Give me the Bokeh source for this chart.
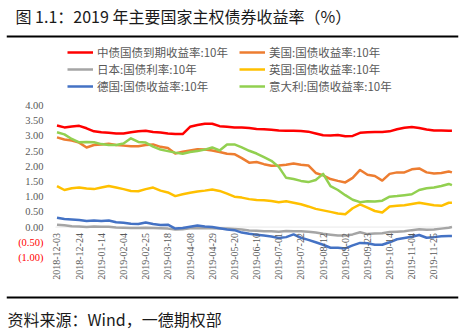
import pandas as pd
from datetime import datetime, timedelta
from bokeh.plotting import figure
from bokeh.layouts import column
from bokeh.models import (Range1d, Legend, LegendItem, Span, Label, LabelSet, BoxAnnotation,
                          ColumnDataSource)
from bokeh.embed import file_html
from bokeh.resources import INLINE

# ---------------- data ----------------
dates = list(pd.date_range("2018-12-03", periods=54, freq="7D")) + [pd.Timestamp("2019-12-12")]

china = [3.34, 3.28, 3.31, 3.33, 3.25, 3.15, 3.12, 3.10, 3.08, 3.08, 3.12, 3.15, 3.17, 3.13, 3.11,
         3.08, 3.06, 3.06, 3.30, 3.36, 3.40, 3.40, 3.32, 3.30, 3.28, 3.28, 3.26, 3.23, 3.22, 3.20,
         3.18, 3.17, 3.17, 3.16, 3.14, 3.08, 3.02, 3.01, 3.03, 2.99, 3.00, 3.10, 3.12, 3.13, 3.13,
         3.15, 3.22, 3.27, 3.29, 3.26, 3.21, 3.18, 3.18, 3.17, 3.17]
us = [2.95, 2.88, 2.85, 2.78, 2.62, 2.70, 2.72, 2.74, 2.70, 2.68, 2.66, 2.66, 2.70, 2.72, 2.64,
      2.60, 2.42, 2.48, 2.52, 2.56, 2.55, 2.52, 2.47, 2.41, 2.40, 2.27, 2.12, 2.14, 2.07, 2.02,
      2.03, 2.05, 2.09, 2.05, 2.03, 1.78, 1.70, 1.58, 1.52, 1.47, 1.62, 1.88, 1.72, 1.68, 1.53,
      1.75, 1.80, 1.80, 1.90, 1.93, 1.80, 1.76, 1.78, 1.83, 1.80]
japan = [0.08, 0.06, 0.03, 0.02, 0.00, 0.02, 0.01, 0.01, -0.01, -0.02, -0.03, -0.03, -0.02, -0.03, -0.04,
         -0.05, -0.08, -0.07, -0.04, -0.03, -0.04, -0.04, -0.05, -0.05, -0.06, -0.08, -0.11, -0.12, -0.14, -0.14,
         -0.15, -0.13, -0.14, -0.14, -0.15, -0.18, -0.22, -0.25, -0.28, -0.28, -0.24, -0.17, -0.23, -0.21, -0.20,
         -0.16, -0.15, -0.14, -0.10, -0.07, -0.09, -0.08, -0.05, -0.02, 0.00]
uk = [1.35, 1.22, 1.28, 1.30, 1.27, 1.25, 1.30, 1.35, 1.30, 1.25, 1.19, 1.18, 1.25, 1.30, 1.20,
      1.14, 1.02, 1.08, 1.13, 1.17, 1.20, 1.24, 1.19, 1.10, 1.00, 0.97, 0.92, 0.89, 0.88, 0.86,
      0.82, 0.85, 0.80, 0.75, 0.68, 0.60, 0.55, 0.50, 0.45, 0.42, 0.62, 0.75, 0.64, 0.53, 0.48,
      0.68, 0.70, 0.72, 0.76, 0.80, 0.76, 0.72, 0.70, 0.80, 0.80]
germany = [0.31, 0.27, 0.25, 0.23, 0.20, 0.22, 0.20, 0.22, 0.16, 0.14, 0.11, 0.10, 0.15, 0.10, 0.07,
           0.08, -0.05, -0.03, 0.01, 0.05, 0.02, 0.00, -0.04, -0.08, -0.10, -0.18, -0.22, -0.25, -0.28, -0.31,
           -0.36, -0.33, -0.24, -0.35, -0.42, -0.50, -0.58, -0.68, -0.68, -0.70, -0.60, -0.52, -0.53, -0.58, -0.58,
           -0.50, -0.40, -0.36, -0.32, -0.26, -0.35, -0.33, -0.30, -0.29, -0.29]
italy = [3.12, 3.05, 2.90, 2.79, 2.80, 2.79, 2.73, 2.70, 2.70, 2.75, 2.92, 2.80, 2.78, 2.65, 2.55,
         2.50, 2.45, 2.41, 2.47, 2.50, 2.55, 2.62, 2.52, 2.72, 2.72, 2.62, 2.51, 2.42, 2.30, 2.18,
         1.98, 1.62, 1.58, 1.52, 1.48, 1.55, 1.75, 1.35, 1.22, 1.05, 0.90, 0.82, 0.85, 0.84, 0.87,
         1.00, 1.02, 1.05, 1.08, 1.22, 1.28, 1.30, 1.35, 1.42, 1.38]

series_names = ["中债国债到期收益率:10年", "美国:国债收益率:10年", "日本:国债利率:10年",
                "英国:国债收益率:10年", "德国:国债收益率:10年", "意大利:国债收益率:10年"]
series_values = [china, us, japan, uk, germany, italy]
series_colors = ["#FF0000", "#ED7D31", "#A5A5A5", "#FFC000", "#4472C4", "#92D050"]

x_tick_labels = ["2018-12-03", "2018-12-24", "2019-01-14", "2019-02-04", "2019-02-25", "2019-03-18",
                 "2019-04-08", "2019-04-29", "2019-05-20", "2019-06-10", "2019-07-01", "2019-07-22",
                 "2019-08-12", "2019-09-02", "2019-09-23", "2019-10-14", "2019-11-04", "2019-11-25"]
y_ticks_pos = [0.0, 0.5, 1.0, 1.5, 2.0, 2.5, 3.0, 3.5, 4.0]
y_labels_pos = ["0.00", "0.50", "1.00", "1.50", "2.00", "2.50", "3.00", "3.50", "4.00"]
y_ticks_neg = [-0.5, -1.0]
y_labels_neg = ["(0.50)", "(1.00)"]

title_text = "图 1.1：2019 年主要国家主权债券收益率（%）"
source_text = "资料来源：Wind，一德期权部"

W = 469
CJK = "Noto Sans CJK SC"
NUM = "Lato"
GRAY = "#595959"

def bare(fig):
    fig.xgrid.visible = False
    fig.ygrid.visible = False
    fig.outline_line_color = None
    fig.background_fill_color = "white"
    fig.border_fill_color = "white"
    fig.frame_align = False

# ---------------- header ----------------
head = figure(width=W, height=40, x_range=Range1d(6, 458), y_range=Range1d(0, 40),
              min_border_left=6, min_border_right=11, min_border_top=0, min_border_bottom=0,
              x_axis_location=None, y_axis_location=None,
              toolbar_location=None, output_backend="svg")
bare(head)
head.add_layout(Label(x=15, y=24.5, text=title_text, text_font=CJK, text_font_size="16px",
                      text_color="#1a1a1a", text_baseline="middle"))
head.add_layout(Span(location=4, dimension="width", line_color="black", line_width=2))

# ---------------- main chart ----------------
# plot area: 2018-12-01 14h .. +375.9 days horizontally, -1 .. 4 vertically;
# the canvas of this figure is a bit larger so legends/labels around the area are not clipped
MAIN_H = 255
PX_PER_DAY = 1.056
area_start = datetime(2018, 12, 1, 14)          # left edge of plot area (x = 55 px)
area_end = area_start + timedelta(days=375.9)     # right edge of plot area (x = 452 px)
AREA_L, AREA_T, AREA_B = 55, 65, 217              # plot-area pixel box inside this figure
PX_PER_UNIT = (AREA_B - AREA_T) / 5.0

x_lo = area_start - timedelta(days=AREA_L / PX_PER_DAY)
x_hi = x_lo + timedelta(days=W / PX_PER_DAY)
y_hi = 4 + AREA_T / PX_PER_UNIT
y_lo = -1 - (MAIN_H - AREA_B) / PX_PER_UNIT

p = figure(width=W, height=MAIN_H, x_axis_type="datetime",
           x_range=Range1d(x_lo, x_hi), y_range=Range1d(y_lo, y_hi),
           min_border=0, min_border_left=0, min_border_right=0, min_border_top=0, min_border_bottom=0,
           x_axis_location=None, y_axis_location=None,
           toolbar_location=None, output_backend="svg")
bare(p)

# horizontal axis line at zero across the plot area
p.add_layout(BoxAnnotation(left=area_start, right=area_end, top=0, bottom=0, fill_alpha=0,
                           line_color="#D9D9D9", line_width=1, level="underlay"))

renderers = []
for name, vals, col in zip(series_names, series_values, series_colors):
    src = ColumnDataSource(dict(x=dates, y=vals))
    r = p.line("x", "y", source=src, line_color=col, line_width=2.5, line_join="round")
    renderers.append(r)

# date labels under the zero line (Excel "next to axis" style)
xlab_src = ColumnDataSource(dict(x=[pd.Timestamp(d) for d in x_tick_labels],
                                 y=[0.0] * len(x_tick_labels), text=x_tick_labels))
p.add_layout(LabelSet(x="x", y="y", text="text", source=xlab_src, angle=90, angle_units="deg",
                      text_align="right", text_baseline="middle", y_offset=-6,
                      text_font=NUM, text_font_size="10px", text_color=GRAY))

# value labels on the left of the plot area
ypos_src = ColumnDataSource(dict(x=[area_start] * len(y_ticks_pos), y=y_ticks_pos, text=y_labels_pos))
p.add_layout(LabelSet(x="x", y="y", text="text", source=ypos_src, x_offset=-12,
                      text_align="right", text_baseline="middle",
                      text_font=NUM, text_font_size="10.5px", text_color=GRAY))
yneg_src = ColumnDataSource(dict(x=[area_start] * len(y_ticks_neg), y=y_ticks_neg, text=y_labels_neg))
p.add_layout(LabelSet(x="x", y="y", text="text", source=yneg_src, x_offset=-12,
                      text_align="right", text_baseline="middle",
                      text_font=NUM, text_font_size="10.5px", text_color="#FF0000"))

# legends (two columns of three rows), location = bottom-left corner from frame bottom-left
def make_legend(idx, x):
    items = [LegendItem(label=series_names[i], renderers=[renderers[i]]) for i in idx]
    return Legend(items=items, location=(x, 201), orientation="vertical",
                  glyph_width=26, glyph_height=14, label_height=14, label_standoff=4,
                  spacing=1, padding=0, margin=0, border_line_color=None,
                  background_fill_alpha=0, label_text_font=CJK, label_text_font_size="11.5px",
                  label_text_color=GRAY)

p.add_layout(make_legend([0, 2, 4], 67), "center")
p.add_layout(make_legend([1, 3, 5], 239), "center")

# ---------------- footer ----------------
foot = figure(width=W, height=39, x_range=Range1d(6, 458), y_range=Range1d(0, 39),
              min_border_left=6, min_border_right=11, min_border_top=0, min_border_bottom=0,
              x_axis_location=None, y_axis_location=None,
              toolbar_location=None, output_backend="svg")
bare(foot)
foot.add_layout(Span(location=37, dimension="width", line_color="black", line_width=2))
foot.add_layout(Label(x=7, y=16, text=source_text, text_font=CJK, text_font_size="16px",
                      text_color="#1a1a1a", text_baseline="middle"))

layout = column(head, p, foot, spacing=0)
open("out.html", "w").write(file_html(layout, INLINE))
